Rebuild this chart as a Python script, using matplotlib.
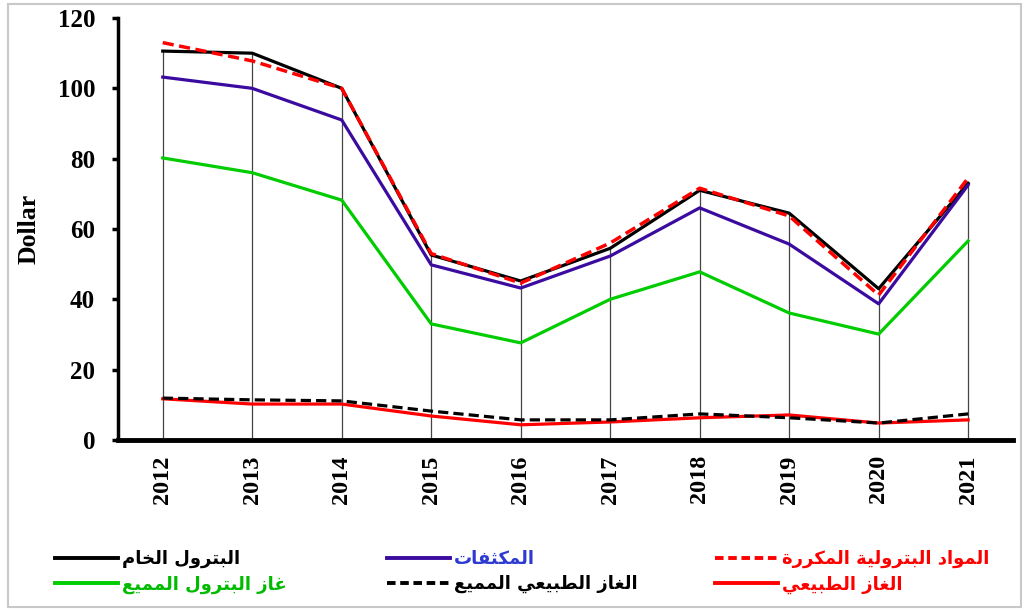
import numpy as np
import matplotlib
matplotlib.use("Agg")
import matplotlib.pyplot as plt
from matplotlib.lines import Line2D
from matplotlib.patches import Rectangle

years = ["2012", "2013", "2014", "2015", "2016", "2017", "2018", "2019", "2020", "2021"]
crude = [110.6, 110.0, 100.0, 52.6, 45.2, 54.5, 71.0, 64.5, 43.0, 73.0]
condensates = [103.2, 100.0, 91.0, 49.8, 43.2, 52.3, 66.0, 55.7, 38.7, 72.5]
refined = [113.0, 107.8, 100.0, 53.0, 44.6, 56.0, 71.6, 63.7, 41.2, 74.5]
lpg = [80.2, 76.0, 68.2, 33.0, 27.6, 40.0, 47.8, 36.1, 30.1, 56.6]
lng = [11.9, 11.4, 11.1, 8.2, 5.7, 5.7, 7.4, 6.3, 4.8, 7.4]
natgas = [11.7, 10.2, 10.2, 6.8, 4.3, 5.1, 6.3, 7.1, 4.8, 5.7]

names = ["البترول الخام", "المكثفات", "المواد البترولية المكررة",
         "غاز البترول المميع", "الغاز الطبيعي المميع", "الغاز الطبيعي"]

# --- minimal arabic shaping (matplotlib has no text shaping) ---
FORMS = {
    'ا': ('\uFE8D', '\uFE8E', None, None),
    'ب': ('\uFE8F', '\uFE90', '\uFE91', '\uFE92'),
    'ة': ('\uFE93', '\uFE94', None, None),
    'ت': ('\uFE95', '\uFE96', '\uFE97', '\uFE98'),
    'ث': ('\uFE99', '\uFE9A', '\uFE9B', '\uFE9C'),
    'خ': ('\uFEA5', '\uFEA6', '\uFEA7', '\uFEA8'),
    'د': ('\uFEA9', '\uFEAA', None, None),
    'ر': ('\uFEAD', '\uFEAE', None, None),
    'ز': ('\uFEAF', '\uFEB0', None, None),
    'ط': ('\uFEC1', '\uFEC2', '\uFEC3', '\uFEC4'),
    'ع': ('\uFEC9', '\uFECA', '\uFECB', '\uFECC'),
    'غ': ('\uFECD', '\uFECE', '\uFECF', '\uFED0'),
    'ف': ('\uFED1', '\uFED2', '\uFED3', '\uFED4'),
    'ك': ('\uFED9', '\uFEDA', '\uFEDB', '\uFEDC'),
    'ل': ('\uFEDD', '\uFEDE', '\uFEDF', '\uFEE0'),
    'م': ('\uFEE1', '\uFEE2', '\uFEE3', '\uFEE4'),
    'و': ('\uFEED', '\uFEEE', None, None),
    'ي': ('\uFEF1', '\uFEF2', '\uFEF3', '\uFEF4'),
}


def shape(text):
    out = []
    n = len(text)
    for i, ch in enumerate(text):
        if ch not in FORMS:
            out.append(ch)
            continue
        prev = i > 0 and text[i - 1] in FORMS and FORMS[text[i - 1]][2] is not None
        nxt = FORMS[ch][2] is not None and i + 1 < n and text[i + 1] in FORMS
        if prev and nxt:
            out.append(FORMS[ch][3])
        elif prev:
            out.append(FORMS[ch][1])
        elif nxt:
            out.append(FORMS[ch][2])
        else:
            out.append(FORMS[ch][0])
    return "".join(out)[::-1]


serif = "Liberation Serif"
x = np.arange(len(years))

fig = plt.figure(figsize=(10.28, 6.11), dpi=100)
ax = fig.add_axes([0.1148, 0.28, 0.8705, 0.6905])

ax.vlines(x, 0, crude, color="#444444", lw=0.9, zorder=1)

ax.plot(x, crude, color="black", lw=2.3, zorder=3)
ax.plot(x, condensates, color="#3B0BA0", lw=2.3, zorder=3)
ax.plot(x, refined, color="#FF0000", lw=2.5, dashes=(3.2, 1.6), zorder=4)
ax.plot(x, lpg, color="#00CC00", lw=2.3, zorder=3)
ax.plot(x, natgas, color="#FF0000", lw=2.3, zorder=3)
ax.plot(x, lng, color="black", lw=2.3, dashes=(3.2, 1.6), zorder=4)

ax.set_xlim(-0.5, 9.5)
ax.set_ylim(0, 120)
ax.set_yticks(range(0, 121, 20))
ax.set_xticks(x)
ax.set_xticklabels(years, rotation=90, fontfamily=serif, fontweight="bold", fontsize=17.5)
for lab in ax.get_yticklabels():
    lab.set_fontfamily(serif)
    lab.set_fontweight("bold")
    lab.set_fontsize(18)
ax.tick_params(axis="y", direction="out", length=4.5, width=2.5, pad=12)
ax.tick_params(axis="x", length=0, pad=11)

for s in ["top", "right"]:
    ax.spines[s].set_visible(False)
ax.spines["left"].set_linewidth(2.5)
ax.spines["bottom"].set_linewidth(3.5)

ax.set_ylabel("Dollar", fontfamily=serif, fontweight="bold", fontsize=18.5)
ax.yaxis.set_label_coords(-0.086, 0.5)

# legend, one block per column
h = [Line2D([], [], color="black", lw=2.8),
     Line2D([], [], color="#00CC00", lw=2.8),
     Line2D([], [], color="#3B0BA0", lw=2.8),
     Line2D([], [], color="black", lw=2.8, dashes=(2.2, 1.2)),
     Line2D([], [], color="#FF0000", lw=2.8, dashes=(2.2, 1.2)),
     Line2D([], [], color="#FF0000", lw=2.8)]
labs = [names[0], names[3], names[1], names[4], names[2], names[5]]
tcol = ["black", "#00BB00", "#2E3BD0", "black", "#FF0000", "#FF0000"]
xs = [55, 387, 715]
for c in range(3):
    leg = fig.legend(h[2 * c:2 * c + 2], [shape(l) for l in labs[2 * c:2 * c + 2]],
                     loc="upper left", bbox_to_anchor=(xs[c] / 1028, 1 - 550 / 611),
                     frameon=False, handlelength=3.5, handletextpad=0.2,
                     borderpad=0, borderaxespad=0, labelspacing=0.4,
                     prop={"family": "DejaVu Sans", "weight": "bold", "size": 13})
    for t, col in zip(leg.get_texts(), tcol[2 * c:2 * c + 2]):
        t.set_color(col)

fig.patches.append(Rectangle((8 / 1028, 4 / 611), 1013 / 1028, 603 / 611,
                             transform=fig.transFigure, fill=False,
                             edgecolor="#C8C8C8", lw=1.5))

fig.savefig("out.png", dpi=100)
